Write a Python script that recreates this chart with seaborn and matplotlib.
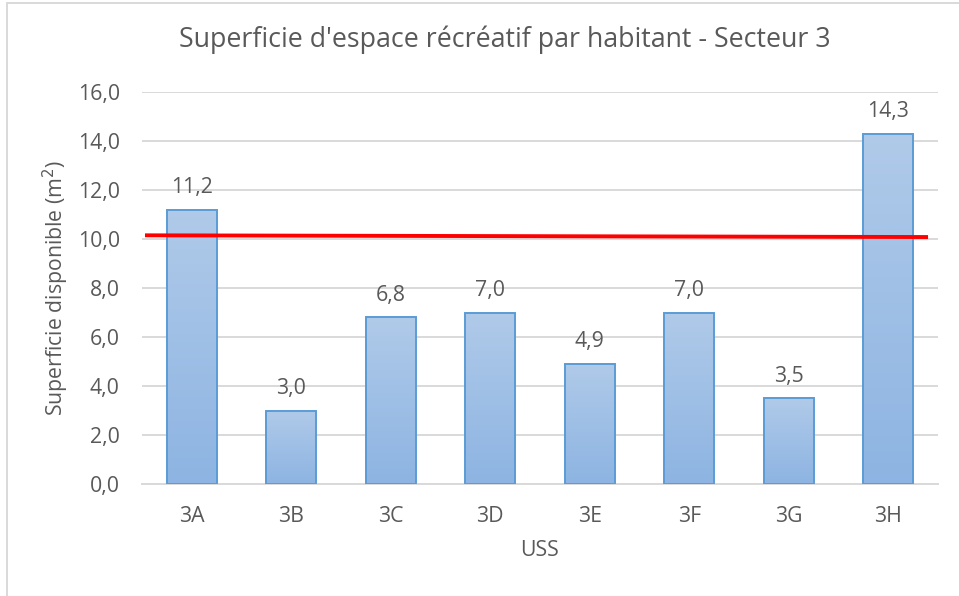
import numpy as np
import pandas as pd
import seaborn as sns
import matplotlib.pyplot as plt
from matplotlib.colors import LinearSegmentedColormap
from matplotlib.lines import Line2D

# data
categories = ["3A", "3B", "3C", "3D", "3E", "3F", "3G", "3H"]
superficie = [11.2, 3.0, 6.8, 7.0, 4.9, 7.0, 3.5, 14.3]
seuil = [10.15, 10.08]  # red reference line, left end / right end
yticks = [0, 2, 4, 6, 8, 10, 12, 14, 16]

df = pd.DataFrame({"USS": categories, "superficie": superficie})

sns.set_theme(style="white")
plt.rcParams["font.family"] = ["Open Sans", "DejaVu Sans"]
txt = "#595959"
fs = 15.3

fig = plt.figure(figsize=(9.59, 5.96), dpi=100)
ax = fig.add_axes([142 / 959, 1 - 484 / 596, 796 / 959, 392 / 596])

sns.barplot(data=df, x="USS", y="superficie", ax=ax, width=0.5,
            color="#A3C1E6", edgecolor="#5B9BD5", linewidth=1.4, zorder=3)

# gradient fill like Excel
cmap = LinearSegmentedColormap.from_list("grad", ["#8DB4E2", "#B0CAE9"])
grad = np.linspace(0, 1, 256).reshape(-1, 1)
for p in ax.patches:
    x0, y0 = p.get_x(), p.get_y()
    w, h = p.get_width(), p.get_height()
    im = ax.imshow(grad, cmap=cmap, origin="lower", aspect="auto",
                   extent=[x0, x0 + w, y0, y0 + h], zorder=3.5)
    im.set_clip_path(p)
    p.set_facecolor("none")
    p.set_zorder(4)

for i, v in enumerate(superficie):
    ax.annotate(f"{v:.1f}".replace(".", ","), (i, v), xytext=(0, 16),
                textcoords="offset points", ha="center", va="center",
                fontsize=fs, color=txt, zorder=6)

n = len(categories)
ax.plot([-0.47, n - 1 + 0.4], seuil, color="#FF0000", linewidth=2.8, zorder=5,
        solid_capstyle="butt")

ax.set_xlim(-0.5, n - 0.5)
ax.set_ylim(0, 16)
ax.set_yticks(yticks)
ax.set_yticklabels([f"{t:.1f}".replace(".", ",") for t in yticks])
ax.yaxis.grid(True, color="#D9D9D9", linewidth=1.4, zorder=0)
ax.set_axisbelow(True)
for s in ["top", "right", "left"]:
    ax.spines[s].set_visible(False)
ax.spines["bottom"].set_color("#D9D9D9")
ax.spines["bottom"].set_linewidth(1.4)
ax.tick_params(axis="both", length=0, labelsize=fs, labelcolor=txt)
ax.tick_params(axis="x", pad=16)
ax.tick_params(axis="y", pad=16)

ax.set_xlabel("USS", fontsize=fs, color=txt)
ax.set_ylabel("Superficie disponible (m$^2$)", fontsize=fs, color=txt)
ax.xaxis.set_label_coords(0.5, (484 - 551) / 392)
ax.yaxis.set_label_coords((56 - 142) / 796, 0.5)
ax.xaxis.label.set_va("center")
ax.yaxis.label.set_va("center")
fig.text(505 / 959, 1 - 40 / 596, "Superficie d'espace récréatif par habitant - Secteur 3",
         ha="center", va="center", fontsize=19.3, color=txt)

# chart frame (only left and top edges are visible in the crop)
fig.add_artist(Line2D([7 / 959, 7 / 959], [0, 1 - 3 / 596], color="#D9D9D9",
                      linewidth=1.4, transform=fig.transFigure))
fig.add_artist(Line2D([7 / 959, 1], [1 - 3 / 596, 1 - 3 / 596], color="#D9D9D9",
                      linewidth=1.4, transform=fig.transFigure))

fig.savefig("out.png", dpi=100)
